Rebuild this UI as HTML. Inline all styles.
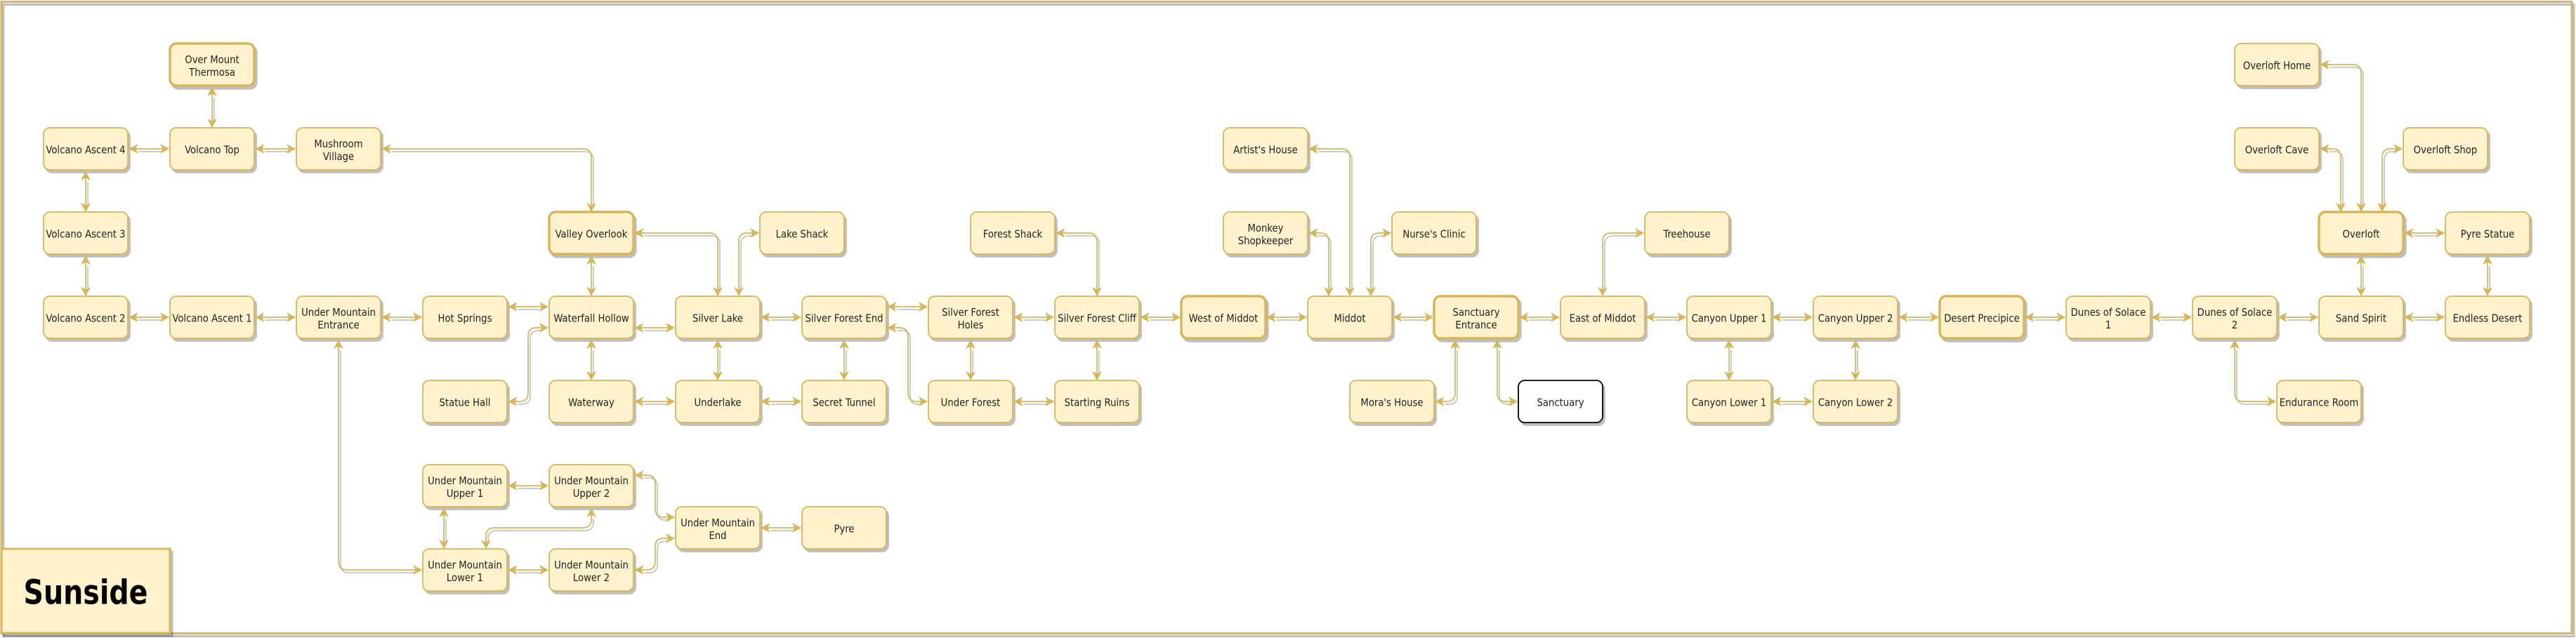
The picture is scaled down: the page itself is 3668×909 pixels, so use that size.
<!DOCTYPE html>
<html lang="en">
<head>
<meta charset="utf-8">
<title>Sunside</title>
<style>
html,body{margin:0;padding:0;background:#fff;}
svg{display:block;}
.n rect{fill:#fff2cc;stroke:#d6b656;stroke-width:1.8;}
.n rect.t{stroke-width:3.4;}
.n rect.s{fill:#fff;stroke:#000;stroke-width:1.8;}
.ns{filter:drop-shadow(3px 4px 0 rgba(0,0,0,.25));}
#e path{fill:none;stroke-width:1.7;}
.l text{font-family:"DejaVu Sans Condensed","DejaVu Sans",sans-serif;font-stretch:condensed;font-size:14.7px;fill:#222;text-anchor:middle;}
.title{font-family:"DejaVu Sans",sans-serif;font-weight:bold;font-size:48px;fill:#000;text-anchor:middle;}
</style>
</head>
<body>
<svg xmlns="http://www.w3.org/2000/svg" width="3668" height="909" viewBox="0 0 3668 909">
<defs>
<marker id="a" markerUnits="userSpaceOnUse" markerWidth="14" markerHeight="16" refX="12" refY="7" orient="auto-start-reverse" overflow="visible"><path d="M0 0L13 7L0 14L3.5 7Z" fill="#d6b656"/></marker>
<marker id="w" markerUnits="userSpaceOnUse" markerWidth="14" markerHeight="16" refX="12" refY="7" orient="auto-start-reverse" overflow="visible"><rect x="2" y="4" width="11" height="6" fill="#fff"/></marker>
<g id="e">
<!-- straight horizontals -->
<path d="M184.5 212H240"/><path d="M364.5 212H420"/>
<path d="M184.5 452H240"/><path d="M364.5 452H420"/><path d="M544.5 452H600"/>
<path d="M724.5 437H780"/><path d="M904.5 467H960"/>
<path d="M904.5 572H960"/><path d="M1084.5 572H1140"/><path d="M1084.5 452H1140"/>
<path d="M1264.5 437H1320"/><path d="M1444.5 452H1500"/><path d="M1444.5 572H1500"/>
<path d="M1624.5 452H1680"/><path d="M1804.5 452H1860"/><path d="M1984.5 452H2040"/>
<path d="M2164.5 452H2220"/><path d="M2344.5 452H2400"/><path d="M2524.5 452H2580"/>
<path d="M2704.5 452H2760"/><path d="M2884.5 452H2940"/><path d="M3064.5 452H3120"/>
<path d="M3244.5 452H3300"/><path d="M3424.5 452H3480"/>
<path d="M2524.5 572H2580"/><path d="M3424.5 332H3480"/>
<path d="M724.5 692H780"/><path d="M724.5 812H780"/><path d="M1084.5 752H1140"/>
<!-- straight verticals -->
<path d="M302 125V181"/><path d="M122 245V301"/><path d="M122 365V421"/>
<path d="M842 365V421"/><path d="M842 485V541"/><path d="M1022 485V541"/>
<path d="M1202 485V541"/><path d="M1382 485V541"/><path d="M1562 485V541"/>
<path d="M2462 485V541"/><path d="M2642 485V541"/>
<path d="M3362 365V421"/><path d="M3542 365V421"/><path d="M632 725V781"/>
<!-- routed -->
<path d="M544.5 212H830Q842 212 842 224V301"/>
<path d="M724.5 572H740Q752 572 752 560V479Q752 467 764 467H780"/>
<path d="M904.5 332H1010Q1022 332 1022 344V421"/>
<path d="M1052 421V344Q1052 332 1064 332H1080"/>
<path d="M1264.5 467H1281Q1293 467 1293 479V560Q1293 572 1305 572H1320"/>
<path d="M1504.5 332H1550Q1562 332 1562 344V421"/>
<path d="M1864.5 212H1910Q1922 212 1922 224V421"/>
<path d="M1864.5 332H1880Q1892 332 1892 344V421"/>
<path d="M1952 421V344Q1952 332 1964 332H1980"/>
<path d="M2282 421V344Q2282 332 2294 332H2340"/>
<path d="M2044.5 572H2060Q2072 572 2072 560V485"/>
<path d="M2132 485V560Q2132 572 2144 572H2160"/>
<path d="M3304.5 92H3350Q3362 92 3362 104V301"/>
<path d="M3304.5 212H3321Q3333 212 3333 224V301"/>
<path d="M3392 301V224Q3392 212 3404 212H3420"/>
<path d="M3182 485V560Q3182 572 3194 572H3240"/>
<path d="M482 485V800Q482 812 494 812H600"/>
<path d="M842 725V740Q842 752 830 752H704Q692 752 692 764V781"/>
<path d="M904.5 677H921Q933 677 933 689V725Q933 737 945 737H960"/>
<path d="M904.5 812H921Q933 812 933 800V779Q933 767 945 767H960"/>
</g>
</defs>

<!-- outer frame -->
<rect x="5" y="6.5" width="3660" height="900" fill="none" stroke="#bfbfbf" stroke-width="3"/>
<rect x="2" y="2.5" width="3660" height="900" fill="none" stroke="#d6b656" stroke-width="3"/>

<!-- connector shadows -->
<use href="#e" transform="translate(3,4)" stroke="#c4c4c4" marker-start="url(#w)" marker-end="url(#w)"/>

<!-- nodes -->
<g class="n ns">
<rect class="t" x="242" y="62" width="120" height="60" rx="9"/>
<rect x="62" y="182" width="120" height="60" rx="9"/>
<rect x="242" y="182" width="120" height="60" rx="9"/>
<rect x="422" y="182" width="120" height="60" rx="9"/>
<rect x="62" y="302" width="120" height="60" rx="9"/>
<rect class="t" x="782" y="302" width="120" height="60" rx="9"/>
<rect x="1082" y="302" width="120" height="60" rx="9"/>
<rect x="1382" y="302" width="120" height="60" rx="9"/>
<rect x="62" y="422" width="120" height="60" rx="9"/>
<rect x="242" y="422" width="120" height="60" rx="9"/>
<rect x="422" y="422" width="120" height="60" rx="9"/>
<rect x="602" y="422" width="120" height="60" rx="9"/>
<rect x="782" y="422" width="120" height="60" rx="9"/>
<rect x="962" y="422" width="120" height="60" rx="9"/>
<rect x="1142" y="422" width="120" height="60" rx="9"/>
<rect x="1322" y="422" width="120" height="60" rx="9"/>
<rect x="1502" y="422" width="120" height="60" rx="9"/>
<rect x="602" y="542" width="120" height="60" rx="9"/>
<rect x="782" y="542" width="120" height="60" rx="9"/>
<rect x="962" y="542" width="120" height="60" rx="9"/>
<rect x="1142" y="542" width="120" height="60" rx="9"/>
<rect x="1322" y="542" width="120" height="60" rx="9"/>
<rect x="1502" y="542" width="120" height="60" rx="9"/>
<rect x="602" y="662" width="120" height="60" rx="9"/>
<rect x="782" y="662" width="120" height="60" rx="9"/>
<rect x="962" y="722" width="120" height="60" rx="9"/>
<rect x="1142" y="722" width="120" height="60" rx="9"/>
<rect x="602" y="782" width="120" height="60" rx="9"/>
<rect x="782" y="782" width="120" height="60" rx="9"/>
<rect x="1742" y="182" width="120" height="60" rx="9"/>
<rect x="1742" y="302" width="120" height="60" rx="9"/>
<rect x="1982" y="302" width="120" height="60" rx="9"/>
<rect x="2342" y="302" width="120" height="60" rx="9"/>
<rect class="t" x="1682" y="422" width="120" height="60" rx="9"/>
<rect x="1862" y="422" width="120" height="60" rx="9"/>
<rect class="t" x="2042" y="422" width="120" height="60" rx="9"/>
<rect x="2222" y="422" width="120" height="60" rx="9"/>
<rect x="2402" y="422" width="120" height="60" rx="9"/>
<rect x="2582" y="422" width="120" height="60" rx="9"/>
<rect class="t" x="2762" y="422" width="120" height="60" rx="9"/>
<rect x="2942" y="422" width="120" height="60" rx="9"/>
<rect x="3122" y="422" width="120" height="60" rx="9"/>
<rect x="3302" y="422" width="120" height="60" rx="9"/>
<rect x="3482" y="422" width="120" height="60" rx="9"/>
<rect x="1922" y="542" width="120" height="60" rx="9"/>
<rect class="s" x="2162" y="542" width="120" height="60" rx="9"/>
<rect x="2402" y="542" width="120" height="60" rx="9"/>
<rect x="2582" y="542" width="120" height="60" rx="9"/>
<rect x="3242" y="542" width="120" height="60" rx="9"/>
<rect x="3182" y="62" width="120" height="60" rx="9"/>
<rect x="3182" y="182" width="120" height="60" rx="9"/>
<rect x="3422" y="182" width="120" height="60" rx="9"/>
<rect class="t" x="3302" y="302" width="120" height="60" rx="9"/>
<rect x="3482" y="302" width="120" height="60" rx="9"/>
</g>

<!-- title box -->
<g class="ns">
<rect x="2" y="782" width="240" height="120" fill="#fff2cc" stroke="#d6b656" stroke-width="3"/>
</g>

<!-- connectors -->
<use href="#e" stroke="#d6b656" marker-start="url(#a)" marker-end="url(#a)"/>

<!-- labels -->
<g class="l">
<text x="302" y="90">Over Mount</text><text x="302" y="108">Thermosa</text>
<text x="122" y="218.5">Volcano Ascent 4</text>
<text x="302" y="218.5">Volcano Top</text>
<text x="482" y="210">Mushroom</text><text x="482" y="228">Village</text>
<text x="122" y="338.5">Volcano Ascent 3</text>
<text x="842" y="338.5">Valley Overlook</text>
<text x="1142" y="338.5">Lake Shack</text>
<text x="1442" y="338.5">Forest Shack</text>
<text x="122" y="458.5">Volcano Ascent 2</text>
<text x="302" y="458.5">Volcano Ascent 1</text>
<text x="482" y="450">Under Mountain</text><text x="482" y="468">Entrance</text>
<text x="662" y="458.5">Hot Springs</text>
<text x="842" y="458.5">Waterfall Hollow</text>
<text x="1022" y="458.5">Silver Lake</text>
<text x="1202" y="458.5">Silver Forest End</text>
<text x="1382" y="450">Silver Forest</text><text x="1382" y="468">Holes</text>
<text x="1562" y="458.5">Silver Forest Cliff</text>
<text x="662" y="578.5">Statue Hall</text>
<text x="842" y="578.5">Waterway</text>
<text x="1022" y="578.5">Underlake</text>
<text x="1202" y="578.5">Secret Tunnel</text>
<text x="1382" y="578.5">Under Forest</text>
<text x="1562" y="578.5">Starting Ruins</text>
<text x="662" y="690">Under Mountain</text><text x="662" y="708">Upper 1</text>
<text x="842" y="690">Under Mountain</text><text x="842" y="708">Upper 2</text>
<text x="1022" y="750">Under Mountain</text><text x="1022" y="768">End</text>
<text x="1202" y="758.5">Pyre</text>
<text x="662" y="810">Under Mountain</text><text x="662" y="828">Lower 1</text>
<text x="842" y="810">Under Mountain</text><text x="842" y="828">Lower 2</text>
<text x="1802" y="218.5">Artist's House</text>
<text x="1802" y="330">Monkey</text><text x="1802" y="348">Shopkeeper</text>
<text x="2042" y="338.5">Nurse's Clinic</text>
<text x="2402" y="338.5">Treehouse</text>
<text x="1742" y="458.5">West of Middot</text>
<text x="1922" y="458.5">Middot</text>
<text x="2102" y="450">Sanctuary</text><text x="2102" y="468">Entrance</text>
<text x="2282" y="458.5">East of Middot</text>
<text x="2462" y="458.5">Canyon Upper 1</text>
<text x="2642" y="458.5">Canyon Upper 2</text>
<text x="2822" y="458.5">Desert Precipice</text>
<text x="3002" y="450">Dunes of Solace</text><text x="3002" y="468">1</text>
<text x="3182" y="450">Dunes of Solace</text><text x="3182" y="468">2</text>
<text x="3362" y="458.5">Sand Spirit</text>
<text x="3542" y="458.5">Endless Desert</text>
<text x="1982" y="578.5">Mora's House</text>
<text x="2222" y="578.5">Sanctuary</text>
<text x="2462" y="578.5">Canyon Lower 1</text>
<text x="2642" y="578.5">Canyon Lower 2</text>
<text x="3302" y="578.5">Endurance Room</text>
<text x="3242" y="98.5">Overloft Home</text>
<text x="3242" y="218.5">Overloft Cave</text>
<text x="3482" y="218.5">Overloft Shop</text>
<text x="3362" y="338.5">Overloft</text>
<text x="3542" y="338.5">Pyre Statue</text>
</g>
<text class="title" x="122" y="860.5" textLength="177" lengthAdjust="spacingAndGlyphs">Sunside</text>
</svg>
</body>
</html>
